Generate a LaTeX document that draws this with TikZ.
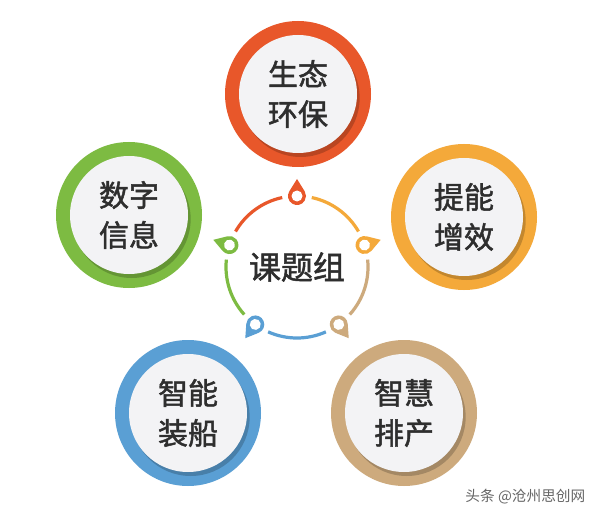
\documentclass[tikz,border=0pt]{standalone}
\usepackage{fontspec}
\setmainfont{Noto Sans CJK SC}[BoldFont=Noto Sans CJK SC, BoldFeatures={FakeBold=1.6}]
\usetikzlibrary{shadows}
\definecolor{rouge}{HTML}{E8572A}
\definecolor{jaune}{HTML}{F4A93A}
\definecolor{sable}{HTML}{CDAA7D}
\definecolor{bleu}{HTML}{5A9FD4}
\definecolor{vert}{HTML}{7DBB42}
\definecolor{fond}{HTML}{F3F3F5}
\definecolor{texte}{HTML}{2E2E2E}

\tikzset{
  anneau/.style={circle, minimum size=109.5pt, inner sep=0pt},
  disque/.style={circle, minimum size=88.5pt, inner sep=0pt, fill=fond,
    align=center, text=texte, font=\fontsize{22.5}{30}\selectfont\bfseries,
    drop shadow={shadow xshift=2pt, shadow yshift=-3pt, opacity=0.2, fill=black}},
  arc hub/.style={line width=2.4pt},
}

\begin{document}
\begin{tikzpicture}[x=0.75pt,y=0.75pt]
  \fill[white] (0,0) rectangle (596,515);
  \useasboundingbox (0,0) rectangle (596,515);

  % Haut.
  \node[anneau, fill=rouge] (env) at (298,421) {};
  \node[disque] (tenv) at (env) {生态\\环保};
  % Droite.
  \node[anneau, fill=jaune] (eff) at (464,298) {};
  \node[disque] (teff) at (eff) {提能\\增效};
  % Gauche.
  \node[anneau, fill=vert] (num) at (129,300) {};
  \node[disque] (tnum) at (num) {数字\\信息};
  % Bas gauche.
  \node[anneau, fill=bleu] (nav) at (188,102) {};
  \node[disque] (tnav) at (nav) {智能\\装船};
  % Bas droite.
  \node[anneau, fill=sable] (prod) at (404,102) {};
  \node[disque] (tprod) at (prod) {智慧\\排产};

  % Centre.
  \node[text=texte, font=\fontsize{24}{24}\selectfont\bfseries] (groupe) at (297,248) {课题组};
  \begin{scope}[shift={(297,248)}]
    \draw[arc hub, jaune] (78:71) arc[start angle=78, end angle=30, radius=71];
    \draw[arc hub, sable] (6:71) arc[start angle=6, end angle=-42, radius=71];
    \draw[arc hub, bleu] (-66:71) arc[start angle=-66, end angle=-114, radius=71];
    \draw[arc hub, vert] (-138:71) arc[start angle=-138, end angle=-186, radius=71];
    \draw[arc hub, rouge] (150:71) arc[start angle=150, end angle=102, radius=71];
    \foreach \a/\c in {90/rouge, 18/jaune, -54/sable, -126/bleu, 162/vert} {
      \begin{scope}[shift={(\a:71)}, rotate=\a]
        \fill[\c] (17,0) -- (58:9) arc[start angle=58, end angle=302, radius=9] -- cycle;
        \fill[white] (0,0) circle (5.5);
      \end{scope}
    }
  \end{scope}

  \node[anchor=east, text=black!60, font=\fontsize{11}{11}\selectfont] (marque) at (590,18) {头条 @沧州思创网};
\end{tikzpicture}
\end{document}
